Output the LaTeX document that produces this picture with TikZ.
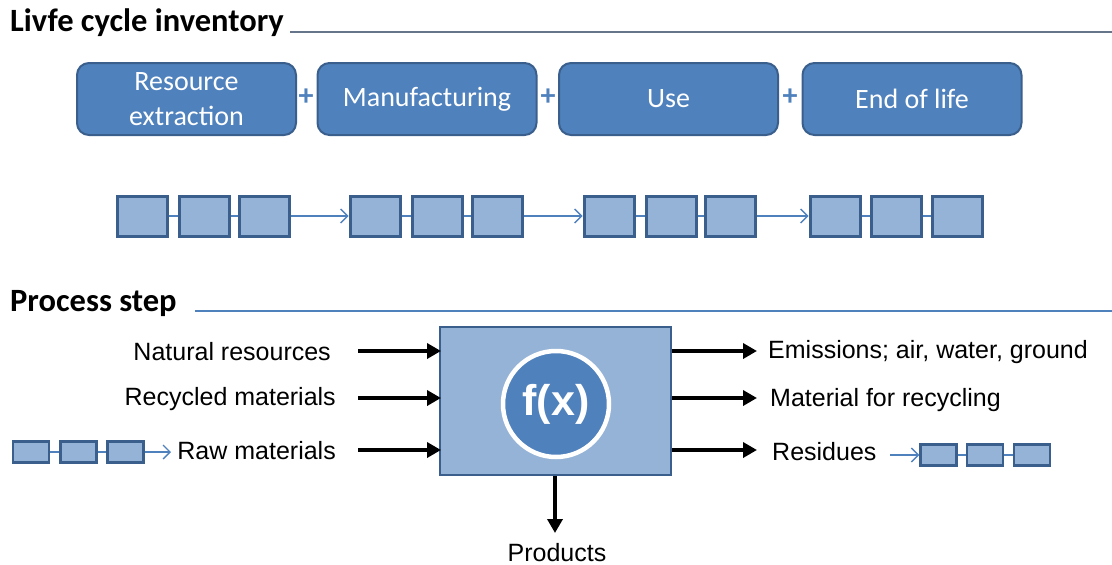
\documentclass[tikz,border=0pt]{standalone}
\usepackage{fontspec}
\setmainfont{Liberation Sans}
\newfontfamily\calfont{Carlito}
\usetikzlibrary{arrows.meta}
\definecolor{stepblue}{HTML}{4F81BD}
\definecolor{lightblue}{HTML}{95B3D7}
\definecolor{edgeblue}{HTML}{3A5F8C}
\definecolor{rulegray}{HTML}{66758A}
\begin{document}
\begin{tikzpicture}[x=1pt,y=-1pt,
  phase/.style={draw=edgeblue, line width=2pt, fill=stepblue, rounded corners=12pt,
    minimum width=219pt, minimum height=72pt, text=white, align=center,
    font=\calfont\fontsize{28}{34}\selectfont},
  unit/.style={draw=edgeblue, line width=3pt, fill=lightblue, minimum width=50pt, minimum height=40pt, inner sep=0pt},
  miniunit/.style={draw=edgeblue, line width=2.5pt, fill=lightblue, minimum width=36pt, minimum height=21pt, inner sep=0pt},
  thinlink/.style={draw=stepblue, line width=1.3pt},
  flow/.style={thinlink, -{Straight Barb[length=7pt,width=14pt,line width=1.3pt]}},
  bigarrow/.style={line width=4pt, -{Triangle[length=14pt,width=15pt]}, shorten >=-2pt},
  lbl/.style={font=\fontsize{25}{30}\selectfont, inner sep=0pt},
  heading/.style={font=\calfont\bfseries\fontsize{32.5}{38}\selectfont, anchor=base west, inner sep=0pt},
  plus/.style={text=stepblue, font=\calfont\bfseries\fontsize{30}{32}\selectfont, inner sep=0pt}]
\useasboundingbox (0,0) rectangle (1112,565);

% ---- Life cycle inventory ----
\node[heading] (h1) at (10,31) {Livfe cycle inventory};
\coordinate (r1a) at (290,32);
\coordinate (r1b) at (1112,32);
\draw[rulegray, line width=1.4pt] (r1a) -- (r1b);

\node[phase] (p1) at (186.5,99) {Resource\\[1pt]extraction};
\node[phase] (p2) at (427,99) {Manufacturing};
\node[phase] (p3) at (668.5,99) {Use};
\node[phase] (p4) at (912,99) {End of life};
\node[plus] (s1) at (306,97) {+};
\node[plus] (s2) at (548,97) {+};
\node[plus] (s3) at (790,97) {+};

% chains of unit processes
\foreach \g/\xa/\xb/\xc in {1/142.5/204/264, 2/375/437/497, 3/609/671/730, 4/835/896.5/957.5}{
  \draw[thinlink] (\xa,216) -- (\xc,216);
  \node[unit] (u\g a) at (\xa,216) {};
  \node[unit] (u\g b) at (\xb,216) {};
  \node[unit] (u\g c) at (\xc,216) {};
}
\draw[flow] (u1c.east) -- (u2a.west);
\draw[flow] (u2c.east) -- (u3a.west);
\draw[flow] (u3c.east) -- (u4a.west);

% ---- Process step ----
\node[heading] (h2) at (10,311) {Process step};
\coordinate (r2a) at (195,311);
\coordinate (r2b) at (1112,311);
\draw[stepblue, line width=1.4pt] (r2a) -- (r2b);

\node[draw=edgeblue, line width=2pt, fill=lightblue, minimum width=231pt, minimum height=148pt] (proc) at (555.5,401) {};
\node[circle, draw=white, line width=4.5pt, fill=stepblue, minimum size=106pt, text=white,
  font=\bfseries\fontsize{43}{46}\selectfont, inner sep=0pt] (fx) at (556,404) {f(x)};

% inputs
\coordinate (i1) at (358,351);
\coordinate (i2) at (358,398);
\coordinate (i3) at (358,450);
\draw[bigarrow] (i1) -- (proc.west |- i1);
\draw[bigarrow] (i2) -- (proc.west |- i2);
\draw[bigarrow] (i3) -- (proc.west |- i3);
\node[lbl, anchor=east] (l1) at (331,352) {Natural resources};
\node[lbl, anchor=east] (l2) at (336,399) {Recycled materials};
\node[lbl, anchor=east] (l3) at (336,451) {Raw materials};

\draw[thinlink] (31,452) -- (125.5,452);
\node[miniunit] (ra) at (31,452) {};
\node[miniunit] (rb) at (78.5,452) {};
\node[miniunit] (rc) at (125.5,452) {};
\coordinate (rt) at (171,452);
\draw[flow] (rc.east) -- (rt);

% outputs
\coordinate (o1) at (755,351);
\coordinate (o2) at (755,398);
\coordinate (o3) at (755,450);
\draw[bigarrow] (proc.east |- o1) -- (o1);
\draw[bigarrow] (proc.east |- o2) -- (o2);
\draw[bigarrow] (proc.east |- o3) -- (o3);
\node[lbl, anchor=west] (m1) at (768,352) {Emissions; air, water, ground};
\node[lbl, anchor=west] (m2) at (770,400) {Material for recycling};
\node[lbl, anchor=west] (m3) at (772,452) {Residues};

\coordinate (st) at (890,455);
\draw[thinlink] (938.5,455) -- (1032,455);
\node[miniunit] (sa) at (938.5,455) {};
\node[miniunit] (sb) at (985,455) {};
\node[miniunit] (sc) at (1032,455) {};
\draw[flow] (st) -- (sa.west);

% product
\coordinate (pr) at (555,531);
\draw[bigarrow] (proc.south -| pr) -- (pr);
\node[lbl] (prod) at (557,553) {Products};
\end{tikzpicture}
\end{document}
